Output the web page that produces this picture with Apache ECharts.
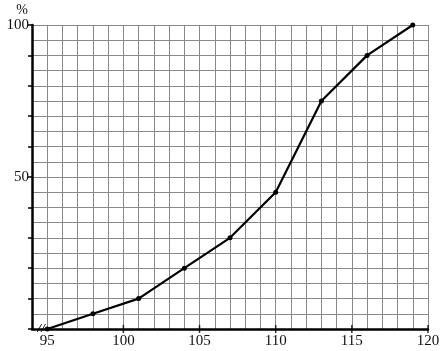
<!DOCTYPE html>
<html><head><meta charset="utf-8">
<script src="https://cdn.jsdelivr.net/npm/echarts@6/dist/echarts.min.js"></script>
<style>html,body{margin:0;padding:0;background:#fff}#c{width:447px;height:351px}</style>
</head><body><div id="c"></div>
<script>
const xValues = [95, 98, 101, 104, 107, 110, 113, 116, 119];
const yValues = [0, 5, 10, 20, 30, 45, 75, 90, 100];
const xTickLabels = [95, 100, 105, 110, 115, 120];
const yTickLabels = [50, 100];

const chart = echarts.init(document.getElementById('c'));
const font = 'Liberation Serif';
chart.setOption({
  animation: false,
  grid: {left: 32, top: 25, right: 19, bottom: 22},
  xAxis: {
    type: 'value', min: 94, max: 120, interval: 1,
    axisLine: {show: true, onZero: false, lineStyle: {color: '#000', width: 2.5}},
    axisTick: {show: false},
    axisLabel: {
      fontFamily: font, fontSize: 15, color: '#111', margin: 5,
      formatter: v => xTickLabels.includes(v) ? String(v) : ''
    },
    splitLine: {show: true, lineStyle: {color: '#888', width: 1}}
  },
  yAxis: {
    type: 'value', min: 0, max: 100, interval: 10,
    name: '%', nameLocation: 'end', nameGap: 8,
    nameTextStyle: {fontFamily: font, fontSize: 14, color: '#111', align: 'right', padding: [0, 4, 0, 0]},
    axisLine: {show: true, lineStyle: {color: '#000', width: 2.5}},
    axisTick: {show: true, length: 4, lineStyle: {color: '#000', width: 1.5}},
    axisLabel: {
      fontFamily: font, fontSize: 15, color: '#111', margin: 3,
      formatter: v => yTickLabels.includes(v) ? String(v) : ''
    },
    splitLine: {show: true, lineStyle: {color: '#888', width: 1}},
    minorTick: {show: false, splitNumber: 2},
    minorSplitLine: {show: true, lineStyle: {color: '#888', width: 1}}
  },
  series: [
    {
      type: 'line',
      data: xValues.map((x, i) => [x, yValues[i]]),
      lineStyle: {color: '#000', width: 2.2},
      itemStyle: {color: '#000'},
      symbol: 'circle', symbolSize: 5,
      z: 5
    },
    {
      type: 'scatter',
      data: xTickLabels.filter(v => v !== 95).map(v => [v, 0]),
      symbol: 'rect', symbolSize: [1.5, 8],
      itemStyle: {color: '#000'},
      silent: true, z: 4
    }
  ]
});
const p = chart.convertToPixel({gridIndex: 0}, [94.6, 0]);
chart.setOption({
  graphic: [{
    type: 'text', x: p[0], y: p[1],
    style: {text: '//', font: 'italic bold 13px Liberation Serif', fill: '#000', align: 'center', verticalAlign: 'middle'},
    z: 10
  }]
});
</script></body></html>
